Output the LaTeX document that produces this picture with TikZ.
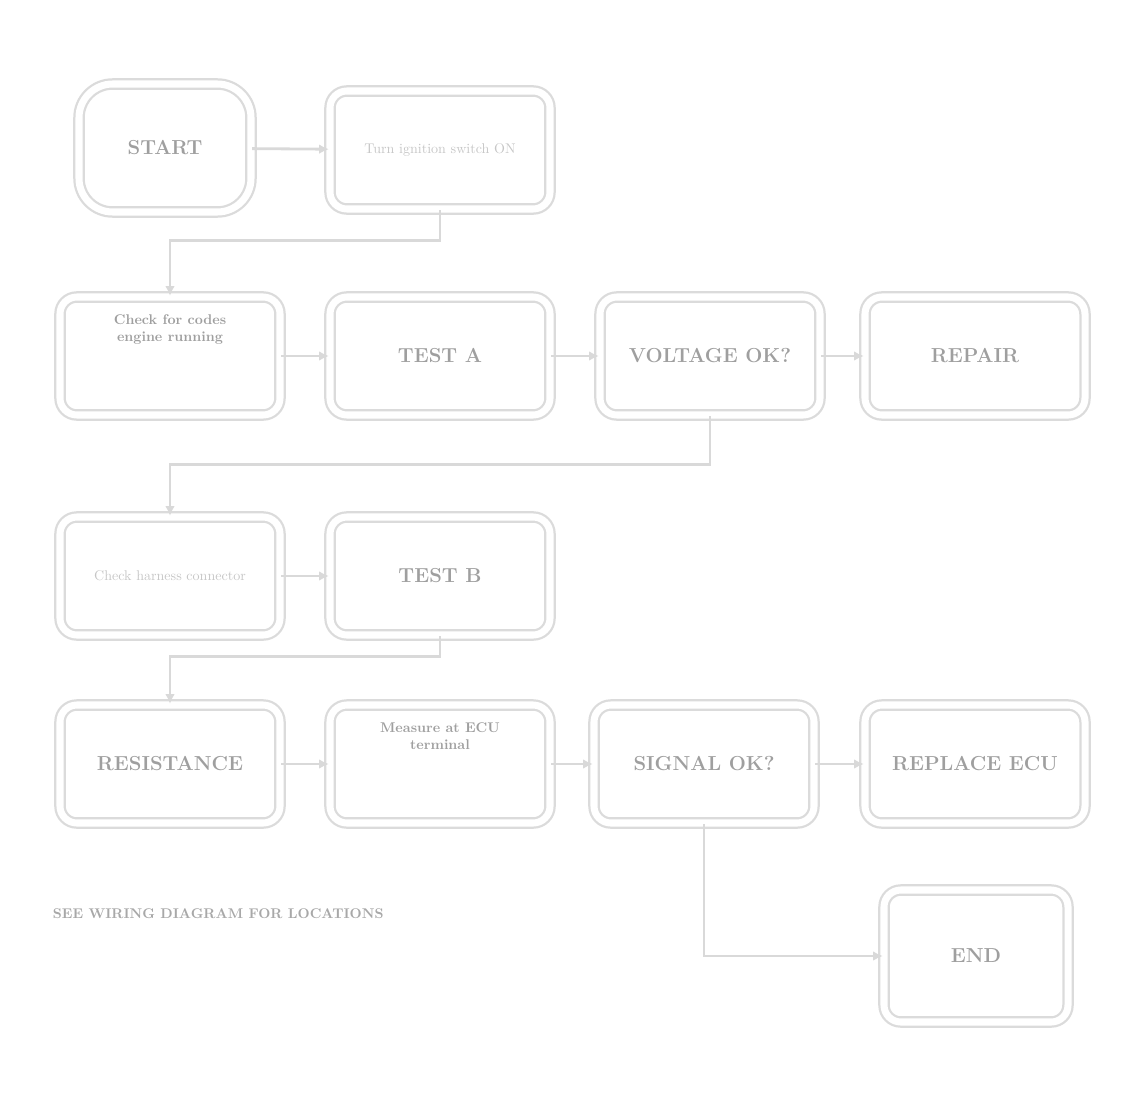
\documentclass[tikz,border=0pt]{standalone}
\usetikzlibrary{arrows.meta}
\begin{document}
\begin{tikzpicture}[
  chartbox/.style = {draw = gray!28, line width = 1.6pt, double = white, double distance = 5pt, rounded corners = 12pt, minimum width = 5.5cm, minimum height = 2.95cm, text = gray!75, font = \Large\bfseries, align = center},
  toptext/.style = {chartbox, text depth = 1.4cm},
  flow/.style = {draw = gray!30, line width = 2pt, -{Latex[length = 7pt, width = 7pt]}}
]
\useasboundingbox (0, 0) rectangle (28.15, -27.775);
\definecolor{col}{HTML}{A8A8A8}
\node[chartbox, minimum width = 4.3cm, minimum height = 3.2cm, rounded corners = 24pt] (start) at (4.125, -3.7) {START};
\node[chartbox, text = gray!45, font = \normalsize] (ignon) at (11.0, -3.75) {Turn ignition switch ON};
\node[toptext, font = \normalsize\bfseries] (codes) at (4.25, -8.9) {Check for codes\\ engine running};
\node[chartbox] (testa) at (11.0, -8.9) {TEST A};
\node[chartbox] (volts) at (17.75, -8.9) {VOLTAGE OK?};
\node[chartbox] (repair) at (24.375, -8.9) {REPAIR};
\node[chartbox, text = gray!45, font = \normalsize] (conn) at (4.25, -14.4) {Check harness connector};
\node[chartbox] (testb) at (11.0, -14.4) {TEST B};
\node[chartbox] (resist) at (4.25, -19.1) {RESISTANCE};
\node[toptext, font = \normalsize\bfseries] (ecu) at (11.0, -19.1) {Measure at ECU\\ terminal};
\node[chartbox] (signal) at (17.6, -19.1) {SIGNAL OK?};
\node[chartbox] (replace) at (24.375, -19.1) {REPLACE ECU};
\node[chartbox, minimum width = 4.6cm, minimum height = 3.3cm] (finish) at (24.4, -23.9) {END};
\node[text = col, font = \normalsize\bfseries, anchor = west] (note) at (1.2, -22.85) {SEE WIRING DIAGRAM FOR LOCATIONS};
% connectors
\draw[flow] (start) -- (ignon);
\draw[flow] (ignon.south) -- ++(0, -0.75) -| (codes.north);
\draw[flow] (codes) -- (testa);
\draw[flow] (testa) -- (volts);
\draw[flow] (volts) -- (repair);
\draw[flow] (volts.south) -- ++(0, -1.2) -| (conn.north);
\draw[flow] (conn) -- (testb);
\draw[flow] (testb.south) -- ++(0, -0.5) -| (resist.north);
\draw[flow] (resist) -- (ecu);
\draw[flow] (ecu) -- (signal);
\draw[flow] (signal) -- (replace);
\draw[flow] (signal.south) |- (finish.west);
\end{tikzpicture}
\end{document}
